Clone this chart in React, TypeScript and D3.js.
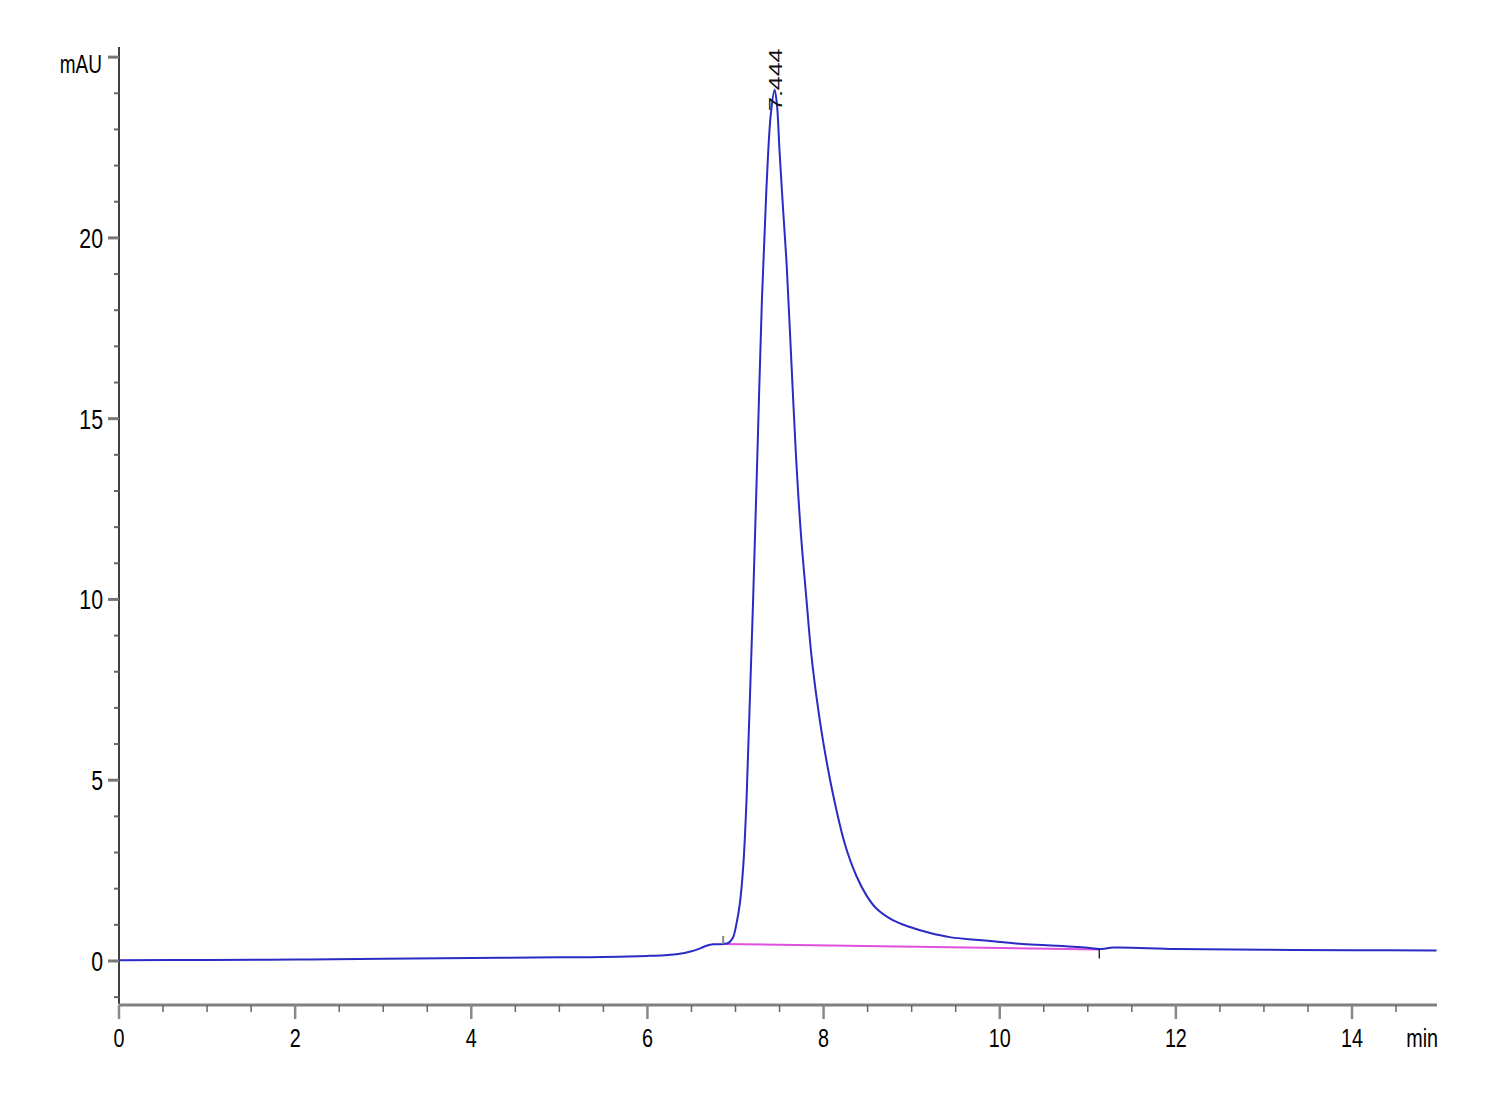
import React, { useEffect, useRef } from "react";
import * as d3 from "d3";

const times = [0, 1, 2, 3, 4, 5, 5.5, 6.0, 6.2, 6.35, 6.5, 6.6, 6.68, 6.75, 6.86, 6.92, 6.97, 7.01, 7.05, 7.09, 7.125, 7.16, 7.2, 7.25, 7.30, 7.35, 7.40, 7.444, 7.47, 7.50, 7.54, 7.58, 7.63, 7.684, 7.74, 7.806, 7.86, 7.92, 8.0, 8.108, 8.24, 8.373, 8.49, 8.6, 8.785, 8.98, 9.2, 9.43, 9.89, 10.26, 10.65, 11.02, 11.13, 11.3, 12.0, 13.0, 14.0, 14.96];
const signal = [0.02, 0.03, 0.04, 0.06, 0.08, 0.10, 0.11, 0.14, 0.16, 0.19, 0.27, 0.35, 0.43, 0.46, 0.47, 0.50, 0.64, 1.02, 1.6, 2.7, 4.45, 7.0, 9.99, 14.14, 18.3, 21.3, 23.4, 24.1, 23.7, 22.4, 20.8, 19.3, 16.8, 14.1, 11.9, 9.99, 8.5, 7.3, 6.0, 4.6, 3.25, 2.35, 1.8, 1.45, 1.13, 0.94, 0.78, 0.66, 0.55, 0.47, 0.42, 0.36, 0.33, 0.37, 0.33, 0.31, 0.30, 0.29];

const baselineTimes = [6.86, 11.13];
const baselineValues = [0.47, 0.32];

const peakTime = 7.444;
const peakLabel = "7.444";

const xMajorTicks = [0, 2, 4, 6, 8, 10, 12, 14];
const yMajorTicks = [0, 5, 10, 15, 20];
const yTopTick = 25;

const FONT = "'Liberation Sans', Arial, sans-serif";
const SX = 0.76;

export default function App() {
  const ref = useRef<SVGSVGElement | null>(null);

  useEffect(() => {
    const svg = d3.select(ref.current);
    svg.selectAll("*").remove();

    const x = d3.scaleLinear().domain([0, 14.965]).range([119, 1437]);
    const y = d3.scaleLinear().domain([-1.19, 25.28]).range([1004, 47]);

    const label = (tx: number, ty: number, txt: string, size: number, anchor: string) =>
      svg.append("text")
        .attr("transform", `translate(${tx},${ty}) scale(${SX},1)`)
        .attr("text-anchor", anchor)
        .attr("font-family", FONT).attr("font-size", size)
        .attr("fill", "#000")
        .text(txt);

    // Y axis line
    svg.append("line")
      .attr("x1", 119).attr("x2", 119)
      .attr("y1", y(25.28)).attr("y2", y(-1.19))
      .attr("stroke", "#000").attr("stroke-width", 1.5);

    const yMinor = d3.range(-1, 25, 1).filter(v => yMajorTicks.indexOf(v) < 0);
    svg.append("g").selectAll("line").data(yMinor).join("line")
      .attr("x1", 114).attr("x2", 119)
      .attr("y1", d => y(d)).attr("y2", d => y(d))
      .attr("stroke", "#666").attr("stroke-width", 2);

    svg.append("g").selectAll("line").data([...yMajorTicks, yTopTick]).join("line")
      .attr("x1", 108).attr("x2", 119)
      .attr("y1", d => y(d)).attr("y2", d => y(d))
      .attr("stroke", "#777").attr("stroke-width", 3);

    yMajorTicks.forEach(v => label(103, y(v) + 10, String(v), 28, "end"));
    label(102, y(yTopTick) + 16, "mAU", 25, "end");

    // X axis
    svg.append("line")
      .attr("x1", 119).attr("x2", 1437)
      .attr("y1", 1005).attr("y2", 1005)
      .attr("stroke", "#808080").attr("stroke-width", 3);

    const xMinor = d3.range(0.5, 15, 0.5).filter(v => xMajorTicks.indexOf(v) < 0 && v <= 14.965);
    svg.append("g").selectAll("line").data(xMinor).join("line")
      .attr("x1", d => x(d)).attr("x2", d => x(d))
      .attr("y1", 1005).attr("y2", 1012)
      .attr("stroke", "#666").attr("stroke-width", 1.5);

    svg.append("g").selectAll("line").data(xMajorTicks).join("line")
      .attr("x1", d => x(d)).attr("x2", d => x(d))
      .attr("y1", 1005).attr("y2", 1019)
      .attr("stroke", "#888").attr("stroke-width", 2.5);

    xMajorTicks.forEach(v => label(x(v), 1047, String(v), 26, "middle"));
    label(1438, 1047, "min", 26, "end");

    // Integration baseline
    const pts = times.map((t, i) => [t, signal[i]] as [number, number]);
    const base = baselineTimes.map((t, i) => [t, baselineValues[i]] as [number, number]);
    const lineGen = d3.line<[number, number]>().x(d => x(d[0])).y(d => y(d[1]));

    svg.append("path")
      .attr("d", lineGen(base) || "")
      .attr("fill", "none").attr("stroke", "#e050e0").attr("stroke-width", 2);

    const curveGen = d3.line<[number, number]>()
      .x(d => x(d[0])).y(d => y(d[1]))
      .curve(d3.curveCatmullRom.alpha(0.5));
    svg.append("path")
      .attr("d", curveGen(pts) || "")
      .attr("fill", "none").attr("stroke", "#2a2ac4").attr("stroke-width", 2);

    // Integration markers
    svg.append("line")
      .attr("x1", x(baselineTimes[0])).attr("x2", x(baselineTimes[0]))
      .attr("y1", y(baselineValues[0]) - 8).attr("y2", y(baselineValues[0]))
      .attr("stroke", "#888").attr("stroke-width", 2);
    svg.append("line")
      .attr("x1", x(baselineTimes[1])).attr("x2", x(baselineTimes[1]))
      .attr("y1", y(baselineValues[1])).attr("y2", y(baselineValues[1]) + 9)
      .attr("stroke", "#000").attr("stroke-width", 1.2);

    // Peak label (rotated)
    const px = x(peakTime) + 7;
    svg.append("text")
      .attr("transform", `translate(${px},111) scale(${SX},1) rotate(-90)`)
      .attr("font-family", FONT).attr("font-size", 25)
      .attr("fill", "#111")
      .text(peakLabel);
  }, []);

  return (
    <svg
      ref={ref}
      width={1500}
      height={1100}
      style={{ position: "absolute", left: 0, top: 0, background: "#fff" }}
    />
  );
}
